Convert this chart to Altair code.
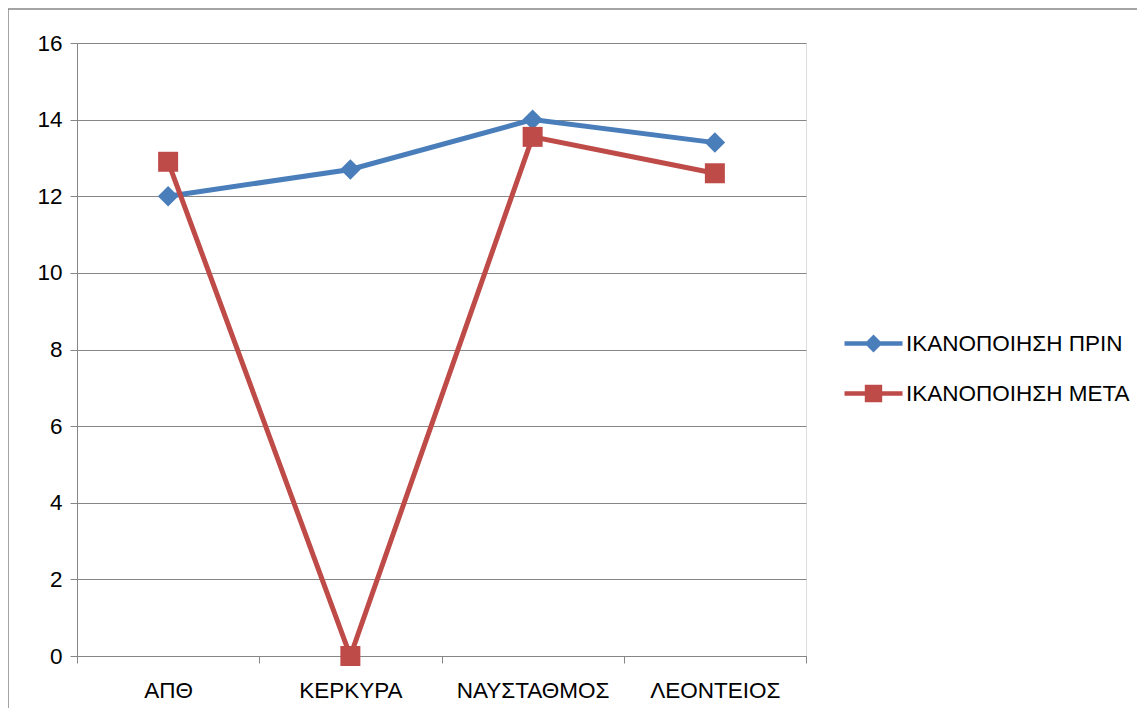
import altair as alt
import pandas as pd

categories = ["ΑΠΘ", "ΚΕΡΚΥΡΑ", "ΝΑΥΣΤΑΘΜΟΣ", "ΛΕΟΝΤΕΙΟΣ"]
series_names = ["ΙΚΑΝΟΠΟΙΗΣΗ ΠΡΙΝ", "ΙΚΑΝΟΠΟΙΗΣΗ ΜΕΤΑ"]
before_values = [12.0, 12.7, 14.0, 13.4]
after_values = [12.9, 0.0, 13.55, 12.6]
y_ticks = [0, 2, 4, 6, 8, 10, 12, 14, 16]

colors = ["#4A7EBB", "#BE4B48"]
FONT = "Liberation Sans"
FS = 22.5

rows = []
for c, v in zip(categories, before_values):
    rows.append({"cat": c, "value": v, "series": series_names[0]})
for c, v in zip(categories, after_values):
    rows.append({"cat": c, "value": v, "series": series_names[1]})
df = pd.DataFrame(rows)

# legend symbols: line with marker (custom paths)
legend_paths = [
    "M-2,-0.16L2,-0.16L2,0.16L-2,0.16ZM0,-0.62L0.62,0L0,0.62L-0.62,0Z",
    "M-2,-0.16L2,-0.16L2,0.16L-2,0.16ZM-0.6,-0.6L0.6,-0.6L0.6,0.6L-0.6,0.6Z",
]

LEG = alt.Legend(
    title=None,
    orient="none",
    legendX=782,
    legendY=286,
    symbolSize=841,
    symbolStrokeWidth=0,
    symbolOpacity=1,
    labelFontSize=FS,
    labelFont=FONT,
    labelColor="black",
    labelOffset=18,
    labelLimit=400,
    rowPadding=24,
)

x_enc = alt.X(
    "cat:N",
    sort=categories,
    scale=alt.Scale(type="band", paddingInner=0, paddingOuter=0),
    bandPosition=0.5,
    title=None,
    axis=alt.Axis(
        tickBand="extent",
        labelAngle=0,
        labelFontSize=FS,
        labelFont=FONT,
        labelColor="black",
        labelPadding=16,
        tickSize=7,
        tickColor="#868686",
        domainColor="#868686",
        grid=False,
    ),
)
y_enc = alt.Y(
    "value:Q",
    scale=alt.Scale(domain=[0, 16], nice=False),
    title=None,
    axis=alt.Axis(
        values=y_ticks,
        labelFontSize=FS,
        labelFont=FONT,
        labelColor="black",
        labelPadding=8,
        tickSize=7,
        tickColor="#868686",
        domainColor="#868686",
        gridColor="#868686",
        gridOpacity=1,
    ),
)
color_enc = alt.Color(
    "series:N",
    scale=alt.Scale(domain=series_names, range=colors),
    legend=LEG,
)

base = alt.Chart(df)

lines = base.mark_line(strokeWidth=5).encode(x=x_enc, y=y_enc, color=color_enc, detail="series:N")

pts_before = base.transform_filter(alt.datum.series == series_names[0]).mark_point(
    shape="diamond", filled=True, size=420, opacity=1
).encode(x=x_enc, y=y_enc, color=color_enc)

pts_after = base.transform_filter(alt.datum.series == series_names[1]).mark_point(
    shape="square", filled=True, size=400, opacity=1
).encode(x=x_enc, y=y_enc, color=color_enc)

legend_layer = base.transform_filter(alt.datum.value < -100).mark_point(filled=True, opacity=1).encode(
    x=x_enc,
    y=y_enc,
    color=color_enc,
    shape=alt.Shape(
        "series:N",
        scale=alt.Scale(domain=series_names, range=legend_paths),
        legend=LEG,
    ),
)

frame = alt.Chart(pd.DataFrame({"a": [0]})).mark_rect(
    filled=False, stroke="#868686", strokeWidth=1.5
).encode(
    x=alt.value(-69), y=alt.value(-34), x2=alt.value(1200), y2=alt.value(800)
)

chart = alt.layer(frame, lines, pts_before, pts_after, legend_layer).properties(
    width=729,
    height=613,
    autosize=alt.AutoSizeParams(type="none"),
    padding={"left": 69, "top": 35, "right": 331, "bottom": 52},
).configure_view(stroke=None).configure(background="white")

chart.save("out.html", embed_options={"renderer": "svg", "actions": False})
